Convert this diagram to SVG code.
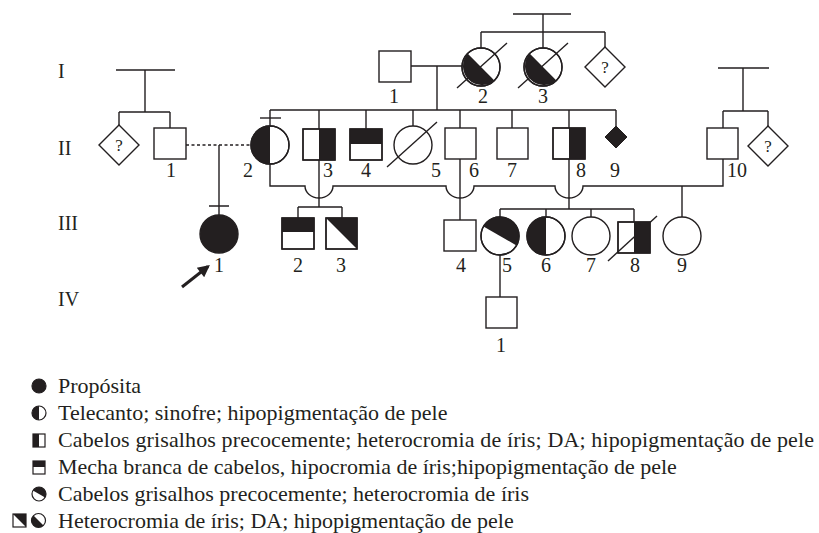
<svg xmlns="http://www.w3.org/2000/svg" width="819" height="533" viewBox="0 0 819 533">
<style>
.ln{stroke:#231f20;stroke-width:1.4;fill:none}
.arrow{stroke:#231f20;stroke-width:3;fill:none}
.dash{stroke:#231f20;stroke-width:1.4;fill:none;stroke-dasharray:3,2.5}
.sym{stroke:#231f20;stroke-width:1.4;fill:#fff}
.out{stroke:#231f20;stroke-width:1.4;fill:none}
.blk{fill:#231f20;stroke:none}
.lab{font-family:"Liberation Serif","Times New Roman",serif;font-size:20px;fill:#231f20;text-anchor:middle}
.gen{font-family:"Liberation Serif","Times New Roman",serif;font-size:20px;fill:#231f20}
.q{font-family:"Liberation Serif","Times New Roman",serif;font-size:17px;fill:#231f20;text-anchor:middle}
.leg{font-family:"Liberation Serif","Times New Roman",serif;font-size:22px;fill:#231f20}
</style>
<defs>
<marker id="ah" viewBox="0 0 10 10" refX="8" refY="5" markerWidth="4.5" markerHeight="4" orient="auto" markerUnits="strokeWidth">
<path d="M0,0 L10,5 L0,10 Z" fill="#231f20"/>
</marker>
</defs>

<g id="generations">
<text class="gen" x="58" y="78">I</text>
<text class="gen" x="58" y="155">II</text>
<text class="gen" x="58" y="230">III</text>
<text class="gen" x="58" y="306">IV</text>
</g>

<g id="connectors">
<path class="ln" d="M513,14 H571 M543,14 V32 M481,32 H605 M481,32 V48 M543,32 V48 M605,32 V47"/>
<path class="ln" d="M411,66 H462 M437,66 V110"/>
<path class="ln" d="M270,110 H616 M270,110 V126 M319,110 V129 M366,110 V129 M413,110 V126 M460,110 V128 M512,110 V128 M569,110 V128 M616,110 V126"/>
<path class="ln" d="M260,118 H281"/>
<path class="ln" d="M116,70 H175 M145,70 V112 M119,112 H170 M119,112 V125 M170,112 V128"/>
<path class="dash" d="M186,145 H251"/>
<path class="ln" d="M219,145 V215 M209,206 H229"/>
<path class="ln" d="M270,164 V186 H305 A14,12 0 0 0 333,186 H446 A14,12 0 0 0 474,186 H555 A14,12 0 0 0 583,186 H723 V159"/>
<path class="ln" d="M682,186 V217"/>
<path class="ln" d="M319,160 V207 M298,207 H342 M298,207 V218 M342,207 V218"/>
<path class="ln" d="M460,159 V220"/>
<path class="ln" d="M569,159 V209 M500,209 H634 M500,209 V217 M546,209 V217 M591,209 V217 M634,209 V222"/>
<path class="ln" d="M500,255 V297"/>
<path class="ln" d="M718,68 H769 M743,68 V111 M723,111 H768 M723,111 V128 M768,111 V126"/>
<path class="arrow" d="M182,287 L208,266.5" marker-end="url(#ah)"/>
</g>

<g id="I-1">
<rect class="sym" x="379" y="51" width="32" height="31"/>
<text class="lab" x="394" y="103">1</text>
</g>
<g id="I-2">
<circle class="sym" cx="481" cy="67" r="19"/>
<path class="blk" d="M467.6,53.6 A19,19 0 0 0 494.4,80.4 Z"/>
<circle class="out" cx="481" cy="67" r="19"/>
<path class="ln" d="M457,88 L507,43"/>
<text class="lab" x="483" y="103">2</text>
</g>
<g id="I-3">
<circle class="sym" cx="543" cy="67" r="19"/>
<path class="blk" d="M529.6,53.6 A19,19 0 0 0 556.4,80.4 Z"/>
<circle class="out" cx="543" cy="67" r="19"/>
<path class="ln" d="M518,88 L568,43"/>
<text class="lab" x="543" y="103">3</text>
</g>
<g id="I-4">
<path class="sym" d="M605,47 L625,67 L605,87 L585,67 Z"/>
<text class="q" x="605" y="73">?</text>
</g>

<g id="II-left-sib">
<path class="sym" d="M119,125 L139,145 L119,165 L99,145 Z"/>
<text class="q" x="119" y="151">?</text>
</g>
<g id="II-1">
<rect class="sym" x="154" y="128" width="32" height="31"/>
<text class="lab" x="171" y="177">1</text>
</g>
<g id="II-2">
<circle class="sym" cx="270" cy="145" r="19"/>
<path class="blk" d="M270,126 A19,19 0 0 0 270,164 Z"/>
<circle class="out" cx="270" cy="145" r="19"/>
<text class="lab" x="248" y="177">2</text>
</g>
<g id="II-3">
<rect class="sym" x="303" y="129" width="32" height="31"/>
<rect class="blk" x="319" y="129" width="16" height="31"/>
<rect class="out" x="303" y="129" width="32" height="31"/>
<text class="lab" x="328" y="177">3</text>
</g>
<g id="II-4">
<rect class="sym" x="350" y="129" width="32" height="31"/>
<rect class="blk" x="350" y="129" width="32" height="15"/>
<rect class="out" x="350" y="129" width="32" height="31"/>
<text class="lab" x="366" y="177">4</text>
</g>
<g id="II-5">
<circle class="sym" cx="413" cy="145" r="19"/>
<path class="ln" d="M387,167 L437,122"/>
<text class="lab" x="436" y="177">5</text>
</g>
<g id="II-6">
<rect class="sym" x="445" y="128" width="31" height="31"/>
<text class="lab" x="474" y="177">6</text>
</g>
<g id="II-7">
<rect class="sym" x="497" y="128" width="31" height="31"/>
<text class="lab" x="512" y="177">7</text>
</g>
<g id="II-8">
<rect class="sym" x="553" y="128" width="32" height="31"/>
<rect class="blk" x="569" y="128" width="16" height="31"/>
<rect class="out" x="553" y="128" width="32" height="31"/>
<text class="lab" x="581" y="177">8</text>
</g>
<g id="II-9">
<path d="M616,126 L627,137 L616,148 L605,137 Z" fill="#231f20" stroke="#231f20" stroke-width="1"/>
<text class="lab" x="615" y="177">9</text>
</g>
<g id="II-10">
<rect class="sym" x="707" y="128" width="31" height="31"/>
<text class="lab" x="737" y="177">10</text>
</g>
<g id="II-right-sib">
<path class="sym" d="M768,126 L788,146 L768,166 L748,146 Z"/>
<text class="q" x="768" y="152">?</text>
</g>

<g id="III-1">
<circle cx="219" cy="234" r="19" fill="#231f20" stroke="#231f20" stroke-width="1.4"/>
<text class="lab" x="219" y="272">1</text>
</g>
<g id="III-2">
<rect class="sym" x="282" y="218" width="32" height="31"/>
<rect class="blk" x="282" y="218" width="32" height="14"/>
<rect class="out" x="282" y="218" width="32" height="31"/>
<text class="lab" x="298" y="272">2</text>
</g>
<g id="III-3">
<rect class="sym" x="326" y="218" width="31" height="31"/>
<path class="blk" d="M326,218 H357 V249 Z"/>
<rect class="out" x="326" y="218" width="31" height="31"/>
<text class="lab" x="341" y="272">3</text>
</g>
<g id="III-4">
<rect class="sym" x="444" y="220" width="32" height="31"/>
<text class="lab" x="461" y="272">4</text>
</g>
<g id="III-5">
<circle class="sym" cx="500" cy="236" r="19"/>
<path class="blk" d="M483.5,226.5 A19,19 0 0 1 516.5,245.5 Z"/>
<circle class="out" cx="500" cy="236" r="19"/>
<text class="lab" x="507" y="272">5</text>
</g>
<g id="III-6">
<circle class="sym" cx="546" cy="236" r="19"/>
<path class="blk" d="M546,217 A19,19 0 0 0 546,255 Z"/>
<circle class="out" cx="546" cy="236" r="19"/>
<text class="lab" x="546" y="272">6</text>
</g>
<g id="III-7">
<circle class="sym" cx="591" cy="236" r="19"/>
<text class="lab" x="591" y="272">7</text>
</g>
<g id="III-8">
<rect class="sym" x="618" y="222" width="32" height="31"/>
<rect class="blk" x="634" y="222" width="16" height="31"/>
<rect class="out" x="618" y="222" width="32" height="31"/>
<path class="ln" d="M608,261 L657,216"/>
<text class="lab" x="635" y="272">8</text>
</g>
<g id="III-9">
<circle class="sym" cx="682" cy="236" r="19"/>
<text class="lab" x="682" y="272">9</text>
</g>

<g id="IV-1">
<rect class="sym" x="486" y="297" width="31" height="31"/>
<text class="lab" x="501" y="352">1</text>
</g>

<g id="legend">
<circle cx="39" cy="386" r="7" fill="#231f20" stroke="#231f20" stroke-width="1.2"/>
<text class="leg" x="58" y="393">Propósita</text>

<path class="blk" d="M39,406 A7,7 0 0 0 39,420 Z"/>
<circle cx="39" cy="413" r="7" fill="none" stroke="#231f20" stroke-width="1.2"/>
<text class="leg" x="58" y="420">Telecanto; sinofre; hipopigmentação de pele</text>

<rect class="blk" x="33" y="434" width="6" height="13"/>
<rect x="33" y="434" width="12" height="13" fill="none" stroke="#231f20" stroke-width="1.2"/>
<text class="leg" x="58" y="447" textLength="756" lengthAdjust="spacing">Cabelos grisalhos precocemente; heterocromia de íris; DA; hipopigmentação de pele</text>

<rect class="blk" x="33" y="461" width="12" height="6"/>
<rect x="33" y="461" width="12" height="13" fill="none" stroke="#231f20" stroke-width="1.2"/>
<text class="leg" x="58" y="474">Mecha branca de cabelos, hipocromia de íris;hipopigmentação de pele</text>

<path class="blk" d="M32.9,490.5 A7,7 0 0 1 45.1,497.5 Z"/>
<circle cx="39" cy="494" r="7" fill="none" stroke="#231f20" stroke-width="1.2"/>
<text class="leg" x="58" y="501">Cabelos grisalhos precocemente; heterocromia de íris</text>

<path class="blk" d="M13,514 H26 V527 Z"/>
<rect x="13" y="514" width="13" height="13" fill="none" stroke="#231f20" stroke-width="1.2"/>
<path class="blk" d="M33.5,515.5 A7,7 0 0 0 43.5,525.5 Z"/>
<circle cx="38.5" cy="520.5" r="7" fill="none" stroke="#231f20" stroke-width="1.2"/>
<text class="leg" x="58" y="528">Heterocromia de íris; DA; hipopigmentação de pele</text>
</g>
</svg>
